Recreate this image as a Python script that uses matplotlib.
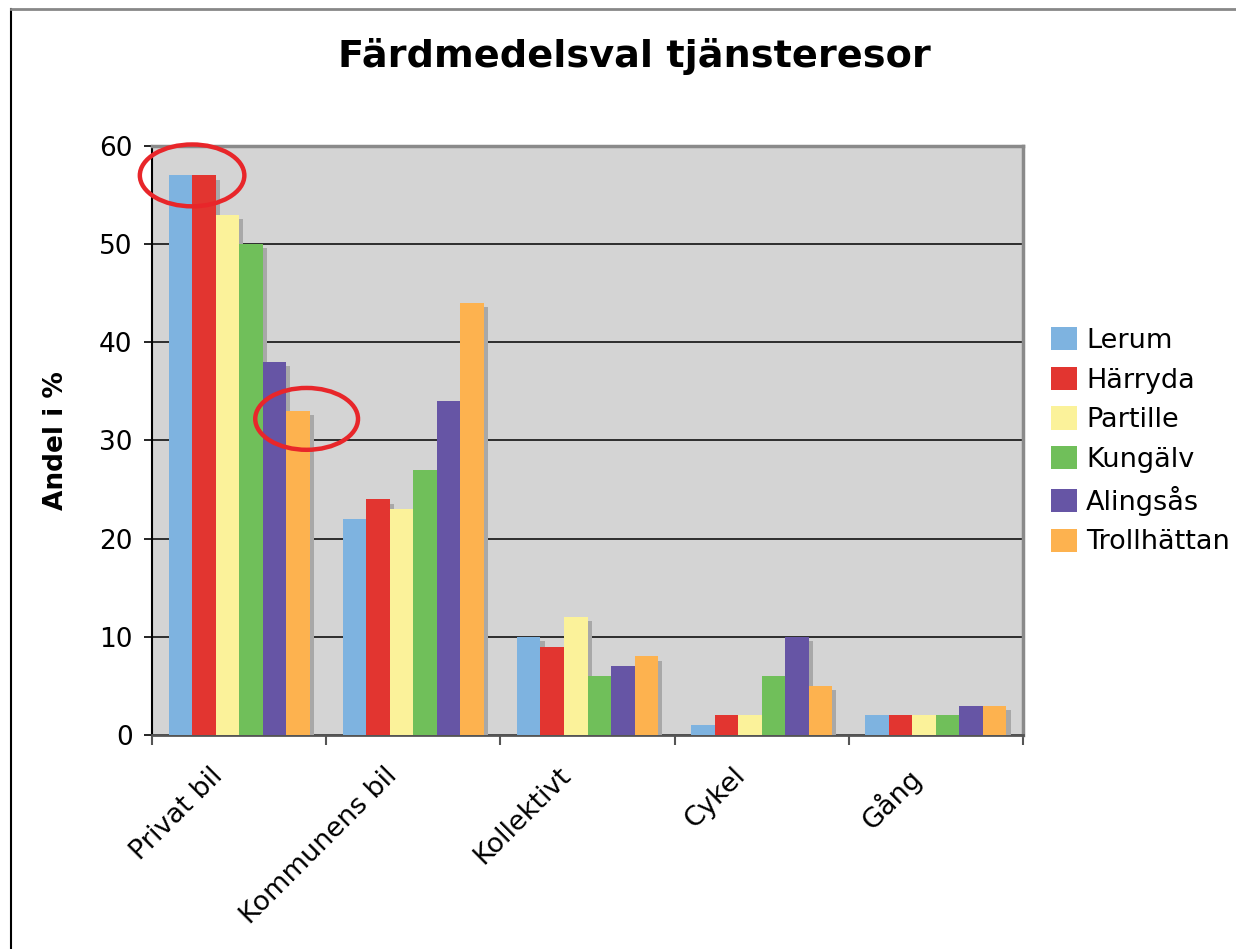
import numpy as np
import matplotlib
matplotlib.use("Agg")
import matplotlib.pyplot as plt
import matplotlib.patheffects as pe
from matplotlib.patches import Ellipse, Patch
from matplotlib.lines import Line2D

categories = ["Privat bil", "Kommunens bil", "Kollektivt", "Cykel", "Gång"]
kommuner = ["Lerum", "Härryda", "Partille", "Kungälv", "Alingsås", "Trollhättan"]
lerum = [57, 22, 10, 1, 2]
harryda = [57, 24, 9, 2, 2]
partille = [53, 23, 12, 2, 2]
kungalv = [50, 27, 6, 6, 2]
alingsas = [38, 34, 7, 10, 3]
trollhattan = [33, 44, 8, 5, 3]
colors = ["#7EB3E0", "#E23530", "#FBF29A", "#70BF5A", "#6655A5", "#FDB24F"]

series = [lerum, harryda, partille, kungalv, alingsas, trollhattan]

plt.rcParams["font.family"] = ["DejaVu Sans"]

fig = plt.figure(figsize=(12.36, 9.49), dpi=100)
ax = fig.add_axes([0.123, 0.2255, 0.7047, 0.6207])
ax.set_facecolor("#D4D4D4")

x = np.arange(len(categories))
w = 0.135
shadow = [pe.SimplePatchShadow(offset=(3, -3), shadow_rgbFace="#A8A8A8", alpha=1.0), pe.Normal()]
for i, (vals, name, col) in enumerate(zip(series, kommuner, colors)):
    bars = ax.bar(x + (i - 2.5) * w, vals, width=w, color=col, zorder=3)
    for b in bars:
        b.set_path_effects(shadow)

ax.set_xlim(-0.5, len(categories) - 0.5)
ax.set_ylim(0, 60)
ax.set_yticks(range(0, 61, 10))
ax.yaxis.grid(True, color="black", linewidth=1.1, zorder=1)
ax.set_axisbelow(True)

# labels sit a bit left of the group centre, like the original Excel chart
ax.set_xticks(x - 0.17)
ax.set_xticklabels(categories, rotation=45, ha="right", va="top", rotation_mode="anchor", fontsize=19.5)
ax.set_xticks(np.arange(-0.5, len(categories), 1), minor=True)
ax.tick_params(axis="x", which="major", length=0, pad=20)
ax.tick_params(axis="x", which="minor", length=7, width=1.5, color="#555555")
ax.tick_params(axis="y", length=6, width=1.2, labelsize=19, pad=8)

ax.spines["left"].set_color("black")
ax.spines["left"].set_linewidth(1.5)
ax.spines["bottom"].set_color("#555555")
ax.spines["bottom"].set_linewidth(2)
ax.spines["top"].set_color("#8A8A8A")
ax.spines["top"].set_linewidth(2.5)
ax.spines["right"].set_color("#8A8A8A")
ax.spines["right"].set_linewidth(2.5)

ax.set_ylabel("Andel i %", fontsize=19, fontweight="bold", labelpad=22)
fig.text(0.513, 0.94, "Färdmedelsval tjänsteresor", fontsize=27.5, fontweight="bold",
         ha="center", va="center")

# red rings around highlighted bars
e1 = Ellipse((x[0] - 2.0 * w, lerum[0]), 0.6, 6.3, fill=False, edgecolor="#E8262A",
             linewidth=3.2, clip_on=False, zorder=5)
e2 = Ellipse((x[0] + 2.5 * w + 0.05, trollhattan[0] - 0.8), 0.59, 6.3, fill=False,
             edgecolor="#E8262A", linewidth=3.2, clip_on=False, zorder=5)
ax.add_patch(e1)
ax.add_patch(e2)

handles = [Patch(facecolor=c, label=n) for c, n in zip(colors, kommuner)]
fig.legend(handles=handles, loc="upper left", bbox_to_anchor=(0.8415, 0.667), frameon=False,
           fontsize=19.5, handlelength=0.95, handleheight=0.95, handletextpad=0.35,
           labelspacing=0.47, borderaxespad=0)

# outer chart border
fig.add_artist(Line2D([0.009, 0.009], [0, 0.99], transform=fig.transFigure, color="black", linewidth=1.5))
fig.add_artist(Line2D([0.009, 1.0], [0.99, 0.99], transform=fig.transFigure, color="#888888", linewidth=2))

fig.savefig("out.png", dpi=100)
